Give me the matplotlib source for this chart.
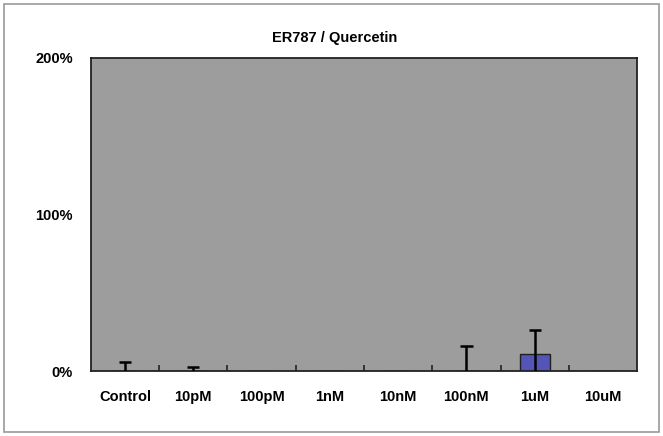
import matplotlib
matplotlib.use("Agg")
import matplotlib.pyplot as plt
from matplotlib.patches import Rectangle
import numpy as np

categories = ["Control", "10pM", "100pM", "1nM", "10nM", "100nM", "1uM", "10uM"]
values = [0, 0, 0, 0, 0, 0, 11, 0]
errors = [5.5, 2.5, 0, 0, 0, 16, 15, 0]
yticks = [0, 100, 200]
ytick_labels = ["0%", "100%", "200%"]

fig = plt.figure(figsize=(6.63, 4.36), dpi=100)
fig.patch.set_facecolor("white")
fig.add_artist(Rectangle((0.006, 0.01), 0.988, 0.98, transform=fig.transFigure,
                         fill=False, edgecolor="#9a9a9a", linewidth=1.2))

ax = fig.add_axes([0.137, 0.149, 0.824, 0.718])
ax.set_facecolor("#9d9d9d")
x = np.arange(len(categories))
vals = np.array(values, dtype=float)
errs = np.array(errors, dtype=float)
ax.bar(x, vals, width=0.44, color="#5555b8", edgecolor="#202020", linewidth=1.0, zorder=2)
m = errs > 0
ax.vlines(x[m], 0, vals[m] + errs[m], colors="black", linewidth=1.8, zorder=3)
ax.hlines(vals[m] + errs[m], x[m] - 0.09, x[m] + 0.09, colors="black", linewidth=1.8, zorder=3)

fp = dict(fontsize=10.5, fontweight="bold", family="Liberation Sans")
ax.set_xlim(-0.5, len(categories) - 0.5)
ax.set_ylim(0, 200)
ax.set_yticks(yticks)
ax.set_yticklabels(ytick_labels, **fp)
ax.tick_params(axis="y", length=0, pad=13)
ax.set_xticks(x)
ax.set_xticklabels(categories, **fp)
ax.tick_params(axis="x", length=0, pad=14)
ax.set_xticks(np.arange(0.5, len(categories) - 0.5, 1), minor=True)
ax.tick_params(axis="x", which="minor", direction="in", length=4, width=1.2, color="#222222")
for s in ax.spines.values():
    s.set_color("#222222")
    s.set_linewidth(1.3)

fig.text(0.505, 0.913, "ER787 / Quercetin", ha="center", va="center", **fp)

fig.savefig("out.png", dpi=100)
